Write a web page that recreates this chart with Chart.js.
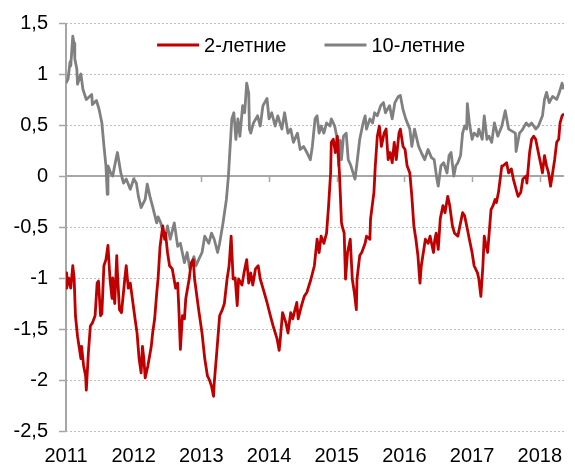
<!DOCTYPE html>
<html lang="ru">
<head>
<meta charset="utf-8">
<title>Доходность 2-летних и 10-летних облигаций</title>
<script src="https://cdn.jsdelivr.net/npm/chart.js@4.4.1/dist/chart.umd.min.js"></script>
<style>
  html, body { margin: 0; padding: 0; background: #fff; }
  #wrap { width: 575px; height: 466px; position: relative; }
</style>
</head>
<body>
<div id="wrap"><canvas id="yieldChart"></canvas></div>
<script>
// Series labels and colours
const seriesNames = ['2-летние', '10-летние'];
const seriesColors = ['#c00000', '#808080'];

// Year ticks along the bottom
const tickYears = [2011, 2012, 2013, 2014, 2015, 2016, 2017, 2018];

// 2-year yields, % (dates as decimal years)
const dates2y = [
  2011.00, 2011.01, 2011.04, 2011.07, 2011.10, 2011.12, 2011.14, 2011.17, 2011.22, 2011.23,
  2011.26, 2011.29, 2011.30, 2011.33, 2011.36, 2011.39, 2011.43, 2011.46, 2011.48, 2011.51,
  2011.53, 2011.56, 2011.59, 2011.62, 2011.65, 2011.68, 2011.69, 2011.72, 2011.75, 2011.76,
  2011.79, 2011.82, 2011.87, 2011.89, 2011.92, 2011.95, 2011.98, 2012.02, 2012.05, 2012.08,
  2012.11, 2012.13, 2012.15, 2012.17, 2012.21, 2012.26, 2012.28, 2012.31, 2012.34, 2012.36,
  2012.39, 2012.43, 2012.46, 2012.47, 2012.50, 2012.53, 2012.57, 2012.62, 2012.65, 2012.67,
  2012.69, 2012.72, 2012.75, 2012.77, 2012.82, 2012.85, 2012.88, 2012.90, 2012.96, 2013.01,
  2013.05, 2013.09, 2013.12, 2013.15, 2013.18, 2013.19, 2013.22, 2013.25, 2013.27, 2013.31,
  2013.34, 2013.38, 2013.41, 2013.44, 2013.47, 2013.50, 2013.53, 2013.55, 2013.60, 2013.63,
  2013.67, 2013.70, 2013.73, 2013.76, 2013.80, 2013.84, 2013.87, 2013.91, 2013.97, 2014.02,
  2014.06, 2014.12, 2014.15, 2014.17, 2014.20, 2014.25, 2014.28, 2014.32, 2014.35, 2014.41,
  2014.43, 2014.48, 2014.52, 2014.56, 2014.62, 2014.67, 2014.71, 2014.74, 2014.77, 2014.81,
  2014.85, 2014.88, 2014.91, 2014.92, 2014.95, 2014.98, 2015.01, 2015.04, 2015.07, 2015.08,
  2015.11, 2015.13, 2015.16, 2015.20, 2015.23, 2015.26, 2015.29, 2015.30, 2015.34, 2015.37,
  2015.42, 2015.44, 2015.49, 2015.50, 2015.55, 2015.57, 2015.60, 2015.63, 2015.66, 2015.70,
  2015.73, 2015.76, 2015.79, 2015.82, 2015.85, 2015.88, 2015.92, 2015.94, 2015.98, 2016.01,
  2016.04, 2016.08, 2016.11, 2016.14, 2016.17, 2016.20, 2016.23, 2016.25, 2016.28, 2016.31,
  2016.35, 2016.38, 2016.43, 2016.45, 2016.47, 2016.50, 2016.53, 2016.57, 2016.60, 2016.64,
  2016.67, 2016.71, 2016.74, 2016.79, 2016.82, 2016.86, 2016.89, 2016.93, 2016.96, 2017.00,
  2017.03, 2017.08, 2017.10, 2017.13, 2017.16, 2017.18, 2017.20, 2017.23, 2017.28, 2017.31,
  2017.34, 2017.36, 2017.39, 2017.44, 2017.46, 2017.51, 2017.54, 2017.58, 2017.61, 2017.65,
  2017.68, 2017.72, 2017.75, 2017.80, 2017.81, 2017.85, 2017.88, 2017.91, 2017.94, 2017.97,
  2018.02, 2018.04, 2018.07, 2018.10, 2018.13, 2018.16, 2018.19, 2018.22, 2018.25, 2018.28,
  2018.30, 2018.33, 2018.36
];
const yields2y = [
  -0.95, -1.10, -1.00, -1.10, -0.88, -1.00, -1.37, -1.57, -1.79, -1.67,
  -1.86, -1.96, -2.10, -1.74, -1.47, -1.44, -1.37, -1.05, -1.03, -1.37,
  -1.35, -0.88, -0.82, -0.68, -1.01, -1.20, -1.00, -1.25, -0.78, -0.95,
  -1.31, -1.34, -1.00, -0.88, -1.10, -1.05, -1.20, -1.40, -1.54, -1.79,
  -1.93, -1.67, -1.79, -1.98, -1.86, -1.67, -1.54, -1.40, -1.15, -1.01,
  -0.69, -0.49, -0.62, -0.56, -0.75, -0.88, -0.91, -1.10, -1.05, -1.34,
  -1.70, -1.37, -1.40, -1.20, -1.01, -0.85, -0.82, -1.01, -1.31, -1.54,
  -1.79, -1.96, -2.00, -2.06, -2.16, -2.03, -1.79, -1.54, -1.37, -1.31,
  -1.25, -1.01, -0.88, -0.59, -1.01, -1.00, -1.27, -1.01, -1.07, -0.95,
  -0.82, -1.05, -0.95, -1.07, -0.91, -0.88, -1.01, -1.10, -1.24, -1.37,
  -1.47, -1.60, -1.71, -1.57, -1.34, -1.44, -1.54, -1.34, -1.40, -1.24,
  -1.40, -1.27, -1.18, -1.14, -1.01, -0.88, -0.62, -0.75, -0.59, -0.66,
  -0.56, -0.29, 0.03, 0.33, 0.36, 0.23, 0.39, 0.03, -0.45, -0.49,
  -0.56, -1.01, -0.75, -0.62, -1.01, -1.14, -1.31, -1.01, -0.78, -0.75,
  -0.66, -0.59, -0.62, -0.42, -0.16, 0.10, 0.39, 0.49, 0.29, 0.42,
  0.46, 0.16, 0.23, 0.13, 0.33, 0.16, 0.42, 0.46, 0.29, 0.26,
  0.10, 0.03, -0.20, -0.49, -0.62, -0.78, -1.05, -0.88, -0.75, -0.62,
  -0.66, -0.59, -0.75, -0.62, -0.56, -0.72, -0.42, -0.29, -0.36, -0.20,
  -0.29, -0.49, -0.56, -0.59, -0.49, -0.36, -0.39, -0.52, -0.62, -0.75,
  -0.88, -0.95, -1.01, -1.18, -0.88, -0.59, -0.66, -0.75, -0.33, -0.29,
  -0.23, -0.26, -0.16, 0.10, 0.10, 0.13, 0.03, 0.07, -0.03, -0.13,
  -0.20, -0.16, -0.03, 0.00, -0.07, 0.23, 0.36, 0.39, 0.36, 0.26,
  0.10, 0.03, 0.20, 0.10, 0.03, -0.10, 0.03, 0.16, 0.33, 0.36,
  0.52, 0.59, 0.61
];

// 10-year yields, % (dates as decimal years)
const dates10y = [
  2011.00, 2011.03, 2011.06, 2011.07, 2011.10, 2011.12, 2011.13, 2011.16, 2011.17, 2011.22,
  2011.25, 2011.30, 2011.38, 2011.39, 2011.45, 2011.49, 2011.53, 2011.56, 2011.59, 2011.61,
  2011.62, 2011.66, 2011.69, 2011.74, 2011.76, 2011.81, 2011.85, 2011.89, 2011.95, 2012.00,
  2012.04, 2012.07, 2012.11, 2012.17, 2012.20, 2012.24, 2012.28, 2012.34, 2012.36, 2012.40,
  2012.46, 2012.50, 2012.54, 2012.60, 2012.65, 2012.69, 2012.75, 2012.79, 2012.83, 2012.89,
  2012.92, 2012.96, 2013.01, 2013.05, 2013.11, 2013.15, 2013.19, 2013.24, 2013.27, 2013.32,
  2013.37, 2013.40, 2013.42, 2013.45, 2013.48, 2013.51, 2013.54, 2013.57, 2013.61, 2013.64,
  2013.67, 2013.70, 2013.71, 2013.73, 2013.77, 2013.83, 2013.87, 2013.91, 2013.97, 2014.00,
  2014.04, 2014.09, 2014.13, 2014.19, 2014.23, 2014.28, 2014.32, 2014.36, 2014.42, 2014.46,
  2014.51, 2014.56, 2014.61, 2014.64, 2014.68, 2014.71, 2014.74, 2014.77, 2014.81, 2014.85,
  2014.90, 2014.92, 2014.97, 2015.00, 2015.03, 2015.05, 2015.07, 2015.10, 2015.14, 2015.17,
  2015.21, 2015.27, 2015.30, 2015.34, 2015.39, 2015.42, 2015.44, 2015.49, 2015.53, 2015.56,
  2015.60, 2015.65, 2015.69, 2015.72, 2015.78, 2015.82, 2015.86, 2015.91, 2015.94, 2015.98,
  2016.02, 2016.08, 2016.11, 2016.15, 2016.21, 2016.25, 2016.30, 2016.35, 2016.40, 2016.44,
  2016.48, 2016.50, 2016.54, 2016.58, 2016.63, 2016.66, 2016.69, 2016.73, 2016.76, 2016.79,
  2016.83, 2016.86, 2016.89, 2016.92, 2016.93, 2016.96, 2017.00, 2017.03, 2017.08, 2017.10,
  2017.15, 2017.18, 2017.22, 2017.25, 2017.29, 2017.33, 2017.38, 2017.44, 2017.49, 2017.54,
  2017.59, 2017.64, 2017.65, 2017.70, 2017.74, 2017.80, 2017.84, 2017.88, 2017.94, 2017.98,
  2018.04, 2018.07, 2018.10, 2018.14, 2018.19, 2018.25, 2018.29, 2018.33, 2018.35
];
const yields10y = [
  0.91, 0.95, 1.12, 1.08, 1.37, 1.30, 1.15, 1.05, 0.90, 1.00,
  0.85, 0.75, 0.80, 0.70, 0.74, 0.65, 0.52, 0.30, 0.10, -0.18,
  0.10, 0.03, 0.00, 0.17, 0.23, 0.03, -0.07, -0.03, -0.13, -0.03,
  -0.07, -0.20, -0.31, -0.23, -0.08, -0.20, -0.30, -0.46, -0.40, -0.46,
  -0.62, -0.49, -0.62, -0.46, -0.69, -0.66, -0.85, -0.75, -0.91, -0.79,
  -0.88, -0.82, -0.75, -0.59, -0.66, -0.56, -0.62, -0.75, -0.66, -0.46,
  -0.23, 0.00, 0.23, 0.56, 0.62, 0.36, 0.56, 0.39, 0.69, 0.62,
  0.91, 0.81, 0.46, 0.42, 0.52, 0.59, 0.49, 0.69, 0.76, 0.56,
  0.62, 0.49, 0.59, 0.46, 0.62, 0.42, 0.46, 0.33, 0.42, 0.26,
  0.29, 0.23, 0.16, 0.29, 0.56, 0.59, 0.42, 0.49, 0.42, 0.52,
  0.49, 0.56, 0.49, 0.39, 0.10, 0.35, 0.16, 0.39, 0.42, 0.16,
  0.10, -0.03, 0.13, 0.36, 0.52, 0.59, 0.46, 0.56, 0.52, 0.62,
  0.59, 0.69, 0.72, 0.62, 0.69, 0.56, 0.72, 0.78, 0.79, 0.65,
  0.56, 0.46, 0.29, 0.46, 0.29, 0.23, 0.16, 0.26, 0.18, 0.16,
  -0.03, -0.10, 0.10, 0.13, 0.03, 0.20, 0.23, 0.00, 0.10, 0.13,
  0.20, 0.42, 0.49, 0.46, 0.71, 0.52, 0.36, 0.42, 0.39, 0.46,
  0.36, 0.59, 0.36, 0.39, 0.33, 0.52, 0.39, 0.49, 0.64, 0.46,
  0.44, 0.42, 0.24, 0.42, 0.45, 0.52, 0.49, 0.52, 0.46, 0.49,
  0.59, 0.75, 0.82, 0.72, 0.78, 0.75, 0.82, 0.91, 0.85
];

const FONT = '"Liberation Sans", Arial, sans-serif';
const AXIS_GREY = '#a6a6a6';

function toPoints(xs, ys) {
    return xs.map((x, i) => ({ x: x, y: ys[i] }));
}

// Dotted gridlines, solid zero line with year marks, y axis line,
// and a legend placed inside the plot area
const axisDecor = {
    id: 'axisDecor',
    beforeDatasetsDraw(chart) {
        const { ctx, chartArea, scales } = chart;
        const left = chartArea.left, right = chartArea.right;
        ctx.save();

        // dotted horizontal gridlines
        ctx.strokeStyle = '#bdbdbd';
        ctx.lineWidth = 1;
        ctx.setLineDash([2, 2]);
        ctx.beginPath();
        scales.y.ticks.forEach(t => {
            if (t.value === 0) return;
            const py = Math.round(scales.y.getPixelForValue(t.value)) + 0.5;
            ctx.moveTo(left, py);
            ctx.lineTo(right, py);
        });
        ctx.stroke();
        ctx.setLineDash([]);

        // zero line and year tick marks hanging below it
        const y0 = Math.round(scales.y.getPixelForValue(0));
        ctx.strokeStyle = AXIS_GREY;
        ctx.lineWidth = 2;
        ctx.beginPath();
        ctx.moveTo(left, y0);
        ctx.lineTo(right, y0);
        ctx.stroke();
        ctx.lineWidth = 1.5;
        ctx.beginPath();
        tickYears.forEach(yr => {
            const px = Math.round(scales.x.getPixelForValue(yr)) + 0.5;
            if (px > left + 2) {
                ctx.moveTo(px, y0);
                ctx.lineTo(px, y0 + 6);
            }
        });
        ctx.stroke();

        // y axis line
        const ax = Math.round(left);
        ctx.lineWidth = 2;
        ctx.beginPath();
        ctx.moveTo(ax, chartArea.top);
        ctx.lineTo(ax, chartArea.bottom);
        ctx.stroke();
        ctx.restore();
    },
    afterDraw(chart) {
        const { ctx, chartArea } = chart;
        const lineLen = 42, gap = 5, itemGap = 38;
        ctx.save();
        ctx.font = '20px ' + FONT;
        const items = chart.data.datasets.map(ds => ({
            label: ds.label,
            color: ds.borderColor,
            w: ctx.measureText(ds.label).width
        }));
        const total = items.reduce((s, it) => s + lineLen + gap + it.w, 0) + itemGap * (items.length - 1);
        let x = (chartArea.left + chartArea.right) / 2 - total / 2 - 4;
        const cy = chartArea.top + 22;
        ctx.textBaseline = 'middle';
        ctx.textAlign = 'left';
        items.forEach(it => {
            ctx.strokeStyle = it.color;
            ctx.lineWidth = 3;
            ctx.beginPath();
            ctx.moveTo(x, cy);
            ctx.lineTo(x + lineLen, cy);
            ctx.stroke();
            ctx.fillStyle = '#000';
            ctx.fillText(it.label, x + lineLen + gap, cy + 1);
            x += lineLen + gap + it.w + itemGap;
        });
        ctx.restore();
    }
};

const ctx = document.getElementById('yieldChart').getContext('2d');
const yieldChart = new Chart(ctx, {
    type: 'line',
    data: {
        datasets: [{
            label: seriesNames[0],
            data: toPoints(dates2y, yields2y),
            borderColor: seriesColors[0],
            backgroundColor: seriesColors[0],
            borderWidth: 2.8,
            borderJoinStyle: 'round',
            pointRadius: 0,
            tension: 0,
            fill: false
        }, {
            label: seriesNames[1],
            data: toPoints(dates10y, yields10y),
            borderColor: seriesColors[1],
            backgroundColor: seriesColors[1],
            borderWidth: 2.8,
            borderJoinStyle: 'round',
            pointRadius: 0,
            tension: 0,
            fill: false
        }]
    },
    options: {
        responsive: true,
        maintainAspectRatio: false,
        animation: false,
        devicePixelRatio: 1,
        layout: { padding: 0 },
        plugins: {
            legend: { display: false },
            tooltip: { enabled: false }
        },
        scales: {
            x: {
                type: 'linear',
                min: 2011,
                max: 2018.36,
                afterBuildTicks: axis => {
                    axis.ticks = tickYears.map(v => ({ value: v }));
                },
                afterFit: axis => { axis.height = 35; },
                grid: { display: false, drawTicks: false },
                border: { display: false },
                ticks: {
                    autoSkip: false,
                    maxRotation: 0,
                    padding: 13,
                    color: '#000',
                    font: { family: FONT, size: 20 },
                    callback: value => String(value)
                }
            },
            y: {
                min: -2.5,
                max: 1.5,
                afterFit: axis => { axis.width = 66; },
                border: { display: false },
                grid: {
                    drawOnChartArea: false,
                    drawTicks: true,
                    tickLength: 7,
                    tickWidth: 1.5,
                    tickColor: AXIS_GREY
                },
                ticks: {
                    stepSize: 0.5,
                    padding: 11,
                    color: '#000',
                    font: { family: FONT, size: 20 },
                    callback: value => String(value).replace('.', ',')
                }
            }
        }
    },
    plugins: [axisDecor]
});
</script>
</body>
</html>
